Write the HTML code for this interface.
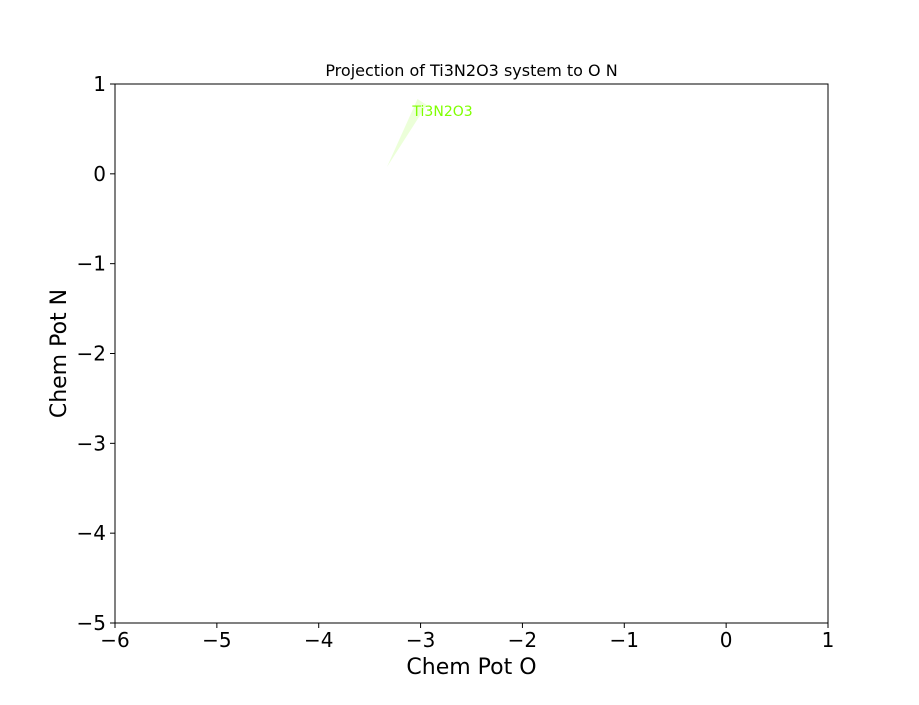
<!DOCTYPE html>
<html><head><meta charset="utf-8"><style>
body{margin:0;background:#fff;font-family:"Liberation Sans","DejaVu Sans",sans-serif}
</style></head><body>
<svg id="chart" width="919" height="700" xmlns="http://www.w3.org/2000/svg" font-family="DejaVu Sans, Liberation Sans, sans-serif">
<rect width="919" height="700" fill="#fff"/>
<g id="plot"></g>
</svg>
<script>
const xTicks=[-6,-5,-4,-3,-2,-1,0,1];
const yTicks=[1,0,-1,-2,-3,-4,-5];
const regionName=["Ti3N2O3"];
const regionX=[-3.33,-3.03,-2.94];
const regionY=[0.076,0.833,0.766];
const labelX=[-3.08];
const labelY=[0.70];
const L=115,R=828,T=84,B=623;
const sx=v=>L+(v-(-6))/(7)*(R-L);
const sy=v=>T+(1-v)/6*(B-T);
const g=document.getElementById('plot');
const NS='http://www.w3.org/2000/svg';
function mk(t,a,txt){const e=document.createElementNS(NS,t);for(const k in a)e.setAttribute(k,a[k]);if(txt!==undefined)e.textContent=txt;g.appendChild(e);return e;}
let p=mk('polygon',{points:regionX.map((x,i)=>sx(x)+','+sy(regionY[i])).join(' '),fill:'#7fff00','fill-opacity':0.15});


let lb=mk('text',{x:sx(labelX[0]),y:sy(labelY[0])+5,fill:'#7fff00','font-size':14},regionName[0]);


let fr=mk('rect',{x:L,y:T,width:R-L,height:B-T,fill:'none',stroke:'#000','stroke-width':1});


xTicks.forEach(v=>{
 const x=sx(v);
 let t=mk('line',{x1:x,y1:B,x2:x,y2:B+5,stroke:'#000'});
 
 
 let l=mk('text',{x:x,y:B+24,'text-anchor':'middle','font-size':20},v<0?'\u2212'+(-v):String(v));
 
 
});
yTicks.forEach(v=>{
 const y=sy(v);
 let t=mk('line',{x1:L-5,y1:y,x2:L,y2:y,stroke:'#000'});
 
 
 let l=mk('text',{x:L-9,y:y+7,'text-anchor':'end','font-size':20},v<0?'\u2212'+(-v):String(v));
 
 
});
let xt=mk('text',{x:(L+R)/2,y:674,'text-anchor':'middle','font-size':22},'Chem Pot O');


let yt=mk('text',{x:66,y:(T+B)/2,'text-anchor':'middle','font-size':22,transform:'rotate(-90 66 '+((T+B)/2)+')'},'Chem Pot N');


let ti=mk('text',{x:(L+R)/2,y:76,'text-anchor':'middle','font-size':16},'Projection of Ti3N2O3 system to O N');


</script>
</body></html>
